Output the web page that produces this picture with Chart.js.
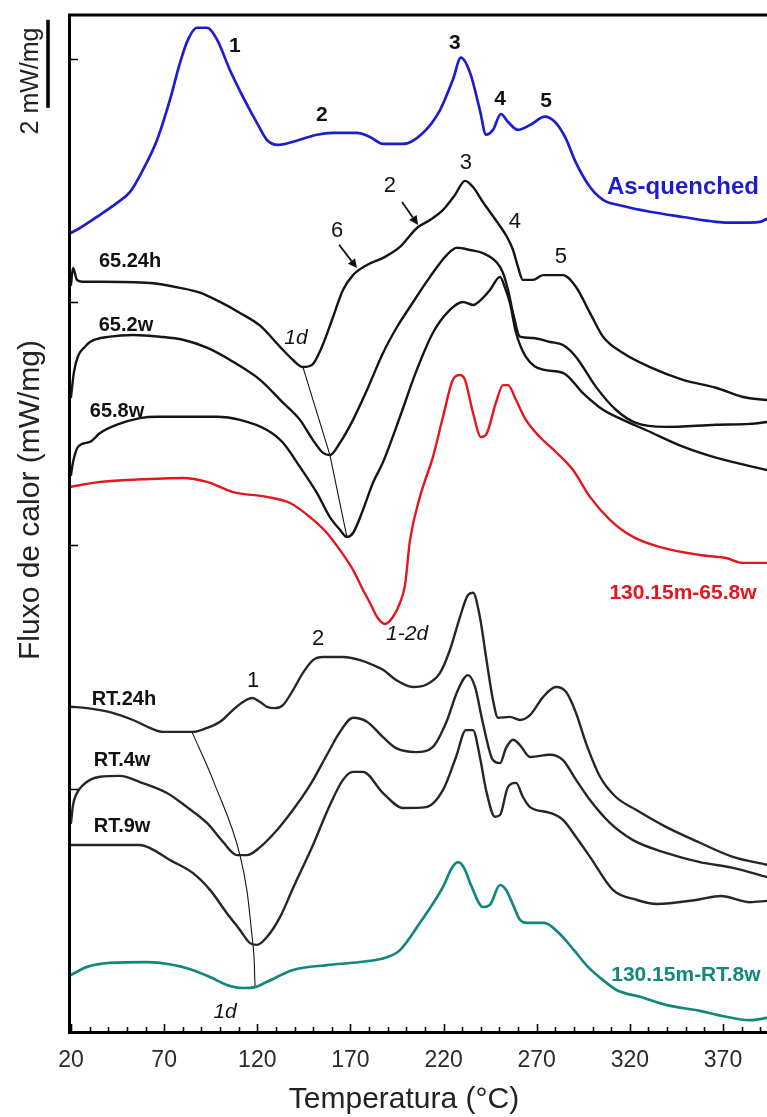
<!DOCTYPE html>
<html><head><meta charset="utf-8">
<script src="https://cdn.jsdelivr.net/npm/chart.js@4.4.1/dist/chart.umd.min.js"></script>
<style>
html,body{margin:0;padding:0;background:#fff;overflow:hidden;width:767px;height:1117px;}
canvas{display:block;}
</style></head><body>
<canvas id="c" width="780" height="1117" style="width:780px;height:1117px"></canvas>
<script>
// ---- Data (temperature in °C, heat flow in mW/mg, curves vertically offset) ----
const xTickLabels = [20, 70, 120, 170, 220, 270, 320, 370];
const yTickValues = [5.53, 11.06, 16.59, 22.11];

const asQuenchedT = [20.0,24.8,35.6,44.7,51.7,58.6,66.2,73.1,78.5,82.8,87.6,93.0,98.4,105.3,112.3,119.8,125.2,131.1,139.2,152.0,160.6,173.5,180.5,187.5,198.2,208.9,218.1,225.0,229.3,234.2,239.5,242.8,246.5,250.8,254.6,259.9,266.4,274.4,279.8,285.2,291.1,298.6,305.6,316.3,330.8,348.5,366.2,377.0,389.8,393.6];
const asQuenchedFlow = [18.16,18.27,18.57,18.84,19.09,19.59,20.27,21.18,22.02,22.55,22.82,22.82,22.55,21.86,21.25,20.66,20.27,20.16,20.23,20.39,20.43,20.43,20.34,20.18,20.18,20.43,20.95,21.64,22.14,21.80,20.95,20.39,20.50,20.86,20.68,20.50,20.61,20.80,20.68,20.34,19.75,19.20,18.91,18.77,18.64,18.52,18.41,18.39,18.41,18.48];

const s65_24hT = [20.0,21.1,23.2,25.9,35.6,62.4,78.5,89.2,100.0,110.7,121.5,132.2,139.2,144.5,149.4,154.7,160.1,166.0,171.4,178.9,187.5,196.6,205.7,212.7,219.7,226.1,231.5,235.8,241.1,248.7,254.0,257.3,259.9,262.6,268.0,273.4,284.1,291.1,298.6,305.6,316.3,330.8,348.5,366.2,380.7,393.6];
const s65_24hFlow = [16.98,17.36,17.09,17.05,17.05,17.02,16.91,16.80,16.59,16.34,16.05,15.57,15.27,15.11,15.16,15.57,16.18,16.86,17.20,17.43,17.59,17.84,18.27,18.45,18.68,19.02,19.34,19.20,18.86,18.41,18.07,17.77,17.39,17.09,17.09,17.20,17.20,16.93,16.34,15.80,15.43,15.11,14.82,14.64,14.43,14.36];

const s65_2wT = [20.0,21.6,23.8,27.5,30.2,40.9,53.3,67.8,80.1,93.0,107.0,121.5,133.8,142.9,149.9,155.3,159.0,164.4,171.4,178.9,187.5,195.0,202.0,212.7,221.8,227.2,234.2,241.1,248.7,251.9,254.6,257.3,261.0,268.0,277.1,284.1,291.1,301.8,312.5,323.3,339.4,366.2,384.5,393.6];
const s65_2wFlow = [14.43,15.00,15.36,15.57,15.68,15.80,15.84,15.80,15.73,15.55,15.23,14.82,14.30,13.91,13.45,13.16,13.11,13.39,13.91,14.59,15.43,16.02,16.48,17.16,17.66,17.82,17.77,17.70,17.48,17.25,16.86,16.34,15.80,15.77,15.68,15.61,15.34,14.66,14.14,13.84,13.75,13.80,13.82,13.86];

const s65_8wT = [20.0,21.1,23.8,30.2,35.6,44.7,57.0,66.2,80.1,98.4,110.7,125.2,133.8,142.9,152.0,159.0,164.4,168.1,171.4,176.7,182.1,187.5,196.6,205.2,214.3,223.4,230.4,235.8,241.1,244.9,250.3,253.0,255.6,258.9,264.2,273.4,284.1,294.8,305.6,316.3,328.6,348.5,366.2,393.6];
const s65_8wFlow = [12.66,12.95,13.30,13.41,13.61,13.80,13.95,13.98,13.98,13.98,13.91,13.68,13.39,12.84,12.25,11.70,11.41,11.25,11.34,11.86,12.48,12.95,13.98,15.00,15.89,16.41,16.59,16.52,16.68,16.86,17.16,16.91,16.57,15.89,15.34,15.05,14.98,14.52,14.14,13.91,13.68,13.30,13.05,12.77];

const s130_65T = [20.0,35.6,53.3,80.1,93.0,107.0,125.2,137.6,148.3,157.4,164.4,171.4,176.7,180.5,184.3,188.5,192.8,196.6,199.3,202.0,207.3,214.3,219.7,225.0,228.8,231.5,235.8,240.1,242.8,248.1,251.9,254.6,258.9,264.2,271.7,280.3,289.5,298.6,309.3,321.7,336.2,357.6,371.6,380.7,393.6];
const s130_65Flow = [12.39,12.50,12.55,12.59,12.50,12.27,12.16,12.02,11.70,11.34,10.95,10.50,10.05,9.75,9.43,9.27,9.43,9.75,10.16,11.18,12.16,13.07,13.98,14.82,14.93,14.82,14.07,13.52,13.57,14.30,14.70,14.70,14.36,13.91,13.52,13.18,12.77,12.16,11.64,11.25,11.02,10.84,10.77,10.66,10.66];

const sRT24hT = [20.0,28.6,40.9,53.3,62.4,69.4,85.5,93.0,100.0,107.0,112.3,117.2,121.5,125.2,129.5,133.8,139.2,144.5,149.9,155.3,166.0,175.1,182.1,187.5,194.5,203.6,210.6,218.1,223.4,228.8,233.1,235.8,239.5,242.8,246.5,249.2,255.6,261.0,266.4,273.4,280.3,285.7,291.1,296.4,304.0,312.5,323.3,339.4,357.6,375.3,393.6];
const sRT24hFlow = [7.39,7.36,7.27,7.09,6.91,6.82,6.82,6.91,7.05,7.32,7.50,7.59,7.50,7.39,7.36,7.43,7.77,8.16,8.45,8.52,8.52,8.45,8.34,8.23,8.00,7.84,7.89,8.16,8.68,9.43,9.93,9.98,9.43,8.52,7.55,7.14,7.16,7.09,7.20,7.61,7.84,7.73,7.25,6.57,5.80,5.34,5.05,4.66,4.30,3.98,3.80];

const sRT4wT = [20.0,21.1,22.7,26.4,35.6,46.3,57.0,71.5,82.3,93.0,101.6,109.1,114.5,121.5,130.6,139.2,148.3,157.4,164.4,171.4,178.9,187.5,194.5,205.2,214.3,221.3,227.7,233.1,236.9,241.1,246.5,250.3,253.5,257.3,261.0,266.4,277.1,284.1,291.1,298.6,309.3,321.7,339.4,357.6,375.3,393.6];
const sRT4wFlow = [4.75,5.16,5.39,5.61,5.80,5.82,5.68,5.43,5.11,4.75,4.32,4.02,4.02,4.20,4.59,5.05,5.61,6.30,6.82,7.14,7.05,6.70,6.45,6.36,6.48,7.02,7.77,8.11,7.84,7.02,6.18,6.11,6.45,6.64,6.52,6.25,6.30,6.18,5.73,5.27,4.75,4.36,4.07,3.86,3.73,3.52];

const sRT9wT = [20.0,57.0,62.4,73.1,85.5,94.6,103.7,110.7,116.1,119.8,125.2,132.2,139.2,149.9,159.0,166.0,171.4,176.7,187.5,198.2,210.6,219.7,226.7,232.0,235.8,239.5,242.8,247.6,250.3,254.6,258.9,262.6,266.4,277.1,284.1,291.1,298.6,310.9,323.8,334.5,355.5,368.9,384.5,393.6];
const sRT9wFlow = [4.25,4.25,4.18,3.91,3.61,3.23,2.70,2.32,2.02,1.98,2.16,2.61,3.27,4.25,5.16,5.73,5.91,5.91,5.43,5.09,5.11,5.50,6.25,6.86,6.86,6.25,5.50,4.89,4.93,5.57,5.66,5.34,5.11,4.98,4.82,4.43,3.98,3.23,3.00,2.91,3.00,3.09,2.95,2.98];

const s130_RTT = [20.0,28.6,40.9,60.8,67.8,82.3,94.6,103.7,112.3,118.8,125.2,139.2,157.4,175.1,189.6,196.6,207.3,219.7,224.5,227.7,231.0,234.7,241.1,244.9,250.3,253.5,257.3,261.0,264.8,273.9,281.9,290.0,297.5,305.6,313.1,325.4,339.9,357.6,366.8,384.5,393.6];
const s130_RTFlow = [1.30,1.48,1.57,1.59,1.57,1.45,1.25,1.07,1.00,1.02,1.14,1.41,1.52,1.59,1.70,1.86,2.48,3.30,3.73,3.86,3.73,3.34,2.84,2.89,3.34,3.23,2.89,2.55,2.48,2.48,2.25,1.86,1.48,1.18,0.95,0.80,0.61,0.48,0.39,0.27,0.32];

// guide lines joining the 1d minima
const guide65T = [144.5, 159.0, 168.1];
const guide65Flow = [15.11, 13.11, 11.25];
const guideRTT = [84.9, 96.2, 110.7, 117.7, 118.8];
const guideRTFlow = [6.82, 5.73, 4.02, 1.98, 1.02];

// ---- build ----
const FONT = '"Liberation Sans", Arial, Helvetica, sans-serif';
function pts(xs, ys) { const n = Math.min(xs.length, ys.length); const out = []; for (let i = 0; i < n; i++) out.push({x: xs[i], y: ys[i]}); return out; }
function curve(xs, ys, color, w) {
  return { data: pts(xs, ys), borderColor: color, borderWidth: w, pointRadius: 0, fill: false,
           cubicInterpolationMode: 'monotone', borderJoinStyle: 'round', borderCapStyle: 'round' };
}
const BLUE = '#1d1dcf', RED = '#e5161d', TEAL = '#12877e', BLACK = '#151515';

const datasets = [
  curve(asQuenchedT, asQuenchedFlow, BLUE, 2.7),
  curve(s65_24hT, s65_24hFlow, BLACK, 2.4),
  curve(s65_2wT, s65_2wFlow, BLACK, 2.4),
  curve(s65_8wT, s65_8wFlow, BLACK, 2.4),
  curve(s130_65T, s130_65Flow, RED, 2.4),
  curve(sRT24hT, sRT24hFlow, '#262626', 2.4),
  curve(sRT4wT, sRT4wFlow, '#262626', 2.4),
  curve(sRT9wT, sRT9wFlow, '#262626', 2.4),
  curve(s130_RTT, s130_RTFlow, TEAL, 2.7),
  { data: pts(guide65T, guide65Flow), borderColor: BLACK, borderWidth: 1.1, pointRadius: 0, tension: 0 },
  { data: pts(guideRTT, guideRTFlow), borderColor: BLACK, borderWidth: 1.1, pointRadius: 0, tension: 0.4 }
];

// annotation texts, placed in data coordinates
const notes = [
  {t:'1', x:108.0, y:22.39, f:'bold 21px', c:'#111'},
  {t:'2', x:154.7, y:20.84, f:'bold 21px', c:'#111'},
  {t:'3', x:226.1, y:22.48, f:'bold 21px', c:'#111'},
  {t:'4', x:250.3, y:21.20, f:'bold 21px', c:'#111'},
  {t:'5', x:275.0, y:21.14, f:'bold 21px', c:'#111'},
  {t:'6', x:162.8, y:18.20, f:'22px', c:'#111'},
  {t:'2', x:191.2, y:19.23, f:'22px', c:'#111'},
  {t:'3', x:232.0, y:19.75, f:'22px', c:'#111'},
  {t:'4', x:258.3, y:18.41, f:'22px', c:'#111'},
  {t:'5', x:283.0, y:17.61, f:'22px', c:'#111'},
  {t:'1', x:117.7, y:7.98, f:'22px', c:'#111'},
  {t:'2', x:152.6, y:8.93, f:'22px', c:'#111'},
  {t:'1d', x:140.8, y:15.77, f:'italic 21px', c:'#111'},
  {t:'1-2d', x:200.4, y:9.05, f:'italic 21px', c:'#111'},
  {t:'1d', x:102.7, y:0.45, f:'italic 21px', c:'#111'},
  {t:'65.24h', x:51.7, y:17.50, f:'bold 20px', c:'#111'},
  {t:'65.2w', x:49.5, y:16.05, f:'bold 20px', c:'#111'},
  {t:'65.8w', x:44.7, y:14.09, f:'bold 20px', c:'#111'},
  {t:'RT.24h', x:48.4, y:7.55, f:'bold 20px', c:'#111'},
  {t:'RT.4w', x:47.4, y:6.18, f:'bold 20px', c:'#111'},
  {t:'RT.9w', x:47.4, y:4.66, f:'bold 20px', c:'#111'},
  {t:'As-quenched', x:348.5, y:19.20, f:'bold 24px', c:BLUE},
  {t:'130.15m-65.8w', x:348.5, y:9.98, f:'bold 21px', c:RED},
  {t:'130.15m-RT.8w', x:350.1, y:1.30, f:'bold 21px', c:TEAL}
];
const arrows = [
  {x1:163.9, y1:17.89, x2:173.5, y2:17.36},
  {x1:197.7, y1:18.86, x2:206.3, y2:18.34}
];

const xPerDeg = 652 / 350;
const xMax = 20 + (780 - 71) / xPerDeg;

const decor = {
  id: 'decor',
  afterDraw(chart) {
    const {ctx, chartArea: a, scales: {x, y}} = chart;
    ctx.save();
    // frame
    ctx.strokeStyle = '#000'; ctx.lineWidth = 3; ctx.lineCap = 'butt';
    ctx.beginPath();
    ctx.moveTo(a.left - 3, a.top); ctx.lineTo(a.right + 10, a.top);
    ctx.moveTo(a.left - 1.5, a.top - 1.5); ctx.lineTo(a.left - 1.5, a.bottom + 2);
    ctx.moveTo(a.left - 3, a.bottom + 0.5); ctx.lineTo(a.right + 10, a.bottom + 0.5);
    ctx.stroke();
    // inward x ticks
    ctx.lineWidth = 1.6;
    ctx.beginPath();
    for (let t = 20; t <= xMax; t += 10) {
      const px = Math.round(x.getPixelForValue(t)) + 0.5;
      const len = xTickLabels.includes(t) ? 8 : 5;
      ctx.moveTo(px, a.bottom); ctx.lineTo(px, a.bottom - len);
    }
    // inward y ticks
    for (const v of yTickValues) {
      const py = Math.round(y.getPixelForValue(v)) + 0.5;
      ctx.moveTo(a.left, py); ctx.lineTo(a.left + 7, py);
    }
    ctx.stroke();
    // annotations
    ctx.textAlign = 'center'; ctx.textBaseline = 'middle';
    for (const n of notes) {
      ctx.font = n.f + ' ' + FONT; ctx.fillStyle = n.c;
      ctx.fillText(n.t, x.getPixelForValue(n.x), y.getPixelForValue(n.y));
    }
    // arrows
    ctx.strokeStyle = '#111'; ctx.fillStyle = '#111'; ctx.lineWidth = 1.8;
    for (const ar of arrows) {
      const x1 = x.getPixelForValue(ar.x1), y1 = y.getPixelForValue(ar.y1);
      const x2 = x.getPixelForValue(ar.x2), y2 = y.getPixelForValue(ar.y2);
      const ang = Math.atan2(y2 - y1, x2 - x1);
      const hl = 9, hw = 4.5;
      const bx = x2 - hl * Math.cos(ang), by = y2 - hl * Math.sin(ang);
      ctx.beginPath(); ctx.moveTo(x1, y1); ctx.lineTo(bx, by); ctx.stroke();
      ctx.beginPath();
      ctx.moveTo(x2, y2);
      ctx.lineTo(bx + hw * Math.sin(ang), by - hw * Math.cos(ang));
      ctx.lineTo(bx - hw * Math.sin(ang), by + hw * Math.cos(ang));
      ctx.closePath(); ctx.fill();
    }
    // scale bar: 2 mW/mg
    const yb1 = y.getPixelForValue(23), yb2 = y.getPixelForValue(21);
    ctx.strokeStyle = '#000'; ctx.lineWidth = 3.5;
    ctx.beginPath(); ctx.moveTo(48, yb1); ctx.lineTo(48, yb2); ctx.stroke();
    ctx.fillStyle = '#222';
    ctx.save(); ctx.translate(31, 81); ctx.rotate(-Math.PI / 2);
    ctx.font = '25px ' + FONT; ctx.fillText('2 mW/mg', 0, 0); ctx.restore();
    // axis titles
    ctx.save(); ctx.translate(31, 500); ctx.rotate(-Math.PI / 2);
    ctx.font = '30px ' + FONT; ctx.fillStyle = '#222'; ctx.fillText('Fluxo de calor (mW/mg)', 0, 0); ctx.restore();
    ctx.font = '30px ' + FONT; ctx.fillStyle = '#222';
    ctx.fillText('Temperatura (°C)', 404, 1100);
    ctx.restore();
  }
};

new Chart(document.getElementById('c'), {
  type: 'line',
  data: { datasets },
  options: {
    responsive: false, animation: false, devicePixelRatio: 1,
    layout: { padding: { top: 15, left: 0, right: 0, bottom: 0 } },
    plugins: { legend: { display: false }, tooltip: { enabled: false } },
    scales: {
      x: {
        type: 'linear', min: 20, max: xMax,
        grid: { display: false, drawTicks: false }, border: { display: false },
        ticks: { stepSize: 10, autoSkip: false, maxRotation: 0, padding: 15, color: '#2a2a2a',
                 font: { family: FONT, size: 23 },
                 callback: v => xTickLabels.includes(Math.round(v)) && Math.abs(v - Math.round(v)) < 1e-6 ? String(Math.round(v)) : '' },
        afterFit: s => { s.height = 85; s.paddingLeft = 0; s.paddingRight = 0; }
      },
      y: {
        type: 'linear', min: 0, max: 23.11,
        grid: { display: false, drawTicks: false }, border: { display: false },
        ticks: { display: false },
        afterFit: s => { s.width = 71; s.paddingTop = 0; s.paddingBottom = 0; }
      }
    }
  },
  plugins: [decor]
});
</script>
</body></html>
